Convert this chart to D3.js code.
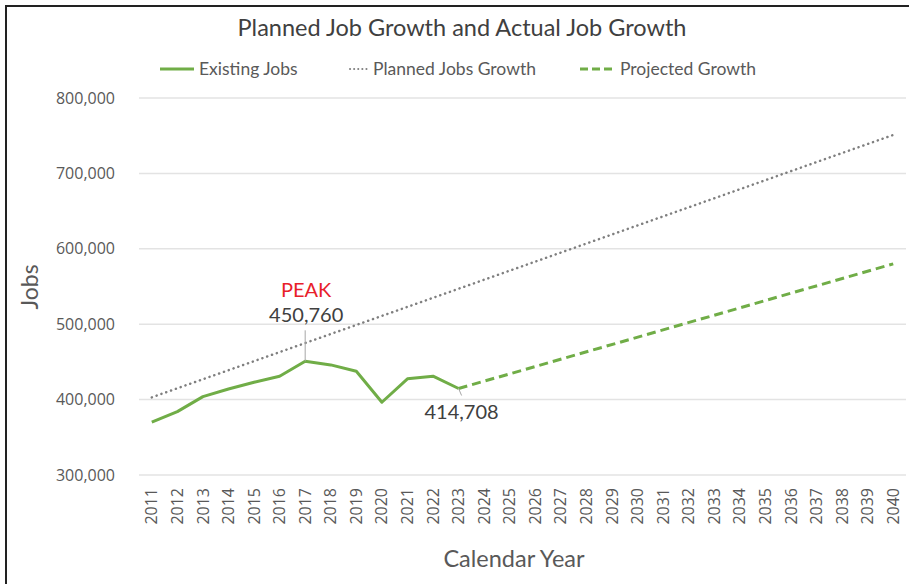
<!DOCTYPE html>
<html>
<head>
<meta charset="utf-8">
<script src="https://cdn.jsdelivr.net/npm/d3@7/dist/d3.min.js"></script>
<style>
  html, body { margin: 0; padding: 0; background: #fff; }
  svg { display: block; }
</style>
</head>
<body>
<script>
// Job data
const years = d3.range(2011, 2041).map(String);
const existingYears = ["2011","2012","2013","2014","2015","2016","2017","2018","2019","2020","2021","2022","2023"];
const existingJobs = [370000, 384000, 404000, 414000, 423000, 431000, 450760, 446000, 437500, 396500, 427500, 431000, 414708];
const plannedYears = ["2011", "2040"];
const plannedJobs = [403000, 751000];
const projectedYears = ["2023", "2040"];
const projectedJobs = [414708, 580000];
const yTicks = [300000, 400000, 500000, 600000, 700000, 800000];

const W = 909, H = 584;
const plotLeft = 139, plotRight = 906, plotTop = 98, plotBottom = 475;
const green = "#70ad47";
const textColor = "#595959";

const svg = d3.select("body").append("svg").attr("width", W).attr("height", H);

// frame edges
svg.append("line").attr("x1", 6).attr("x2", 6).attr("y1", 5).attr("y2", H).attr("stroke", "#222").attr("stroke-width", 2);
svg.append("line").attr("x1", 5).attr("x2", W).attr("y1", 6).attr("y2", 6).attr("stroke", "#222").attr("stroke-width", 2);

const x = d3.scaleBand().domain(years).range([plotLeft, plotRight]);
const y = d3.scaleLinear().domain([300000, 800000]).range([plotBottom, plotTop]);
const cx = d => x(d) + x.bandwidth() / 2;

// grid
svg.append("g").selectAll("line").data(yTicks).join("line")
  .attr("x1", plotLeft).attr("x2", plotRight)
  .attr("y1", d => y(d)).attr("y2", d => y(d))
  .attr("stroke", "#e3e3e3").attr("stroke-width", 1.5);

// y axis labels
const yAxis = svg.append("g").attr("transform", `translate(${plotLeft},0)`)
  .call(d3.axisLeft(y).tickValues(yTicks).tickSize(0).tickPadding(24).tickFormat(d3.format(",")));
yAxis.select(".domain").remove();
yAxis.selectAll("text").attr("font-family", "Open Sans").attr("font-size", 16).attr("fill", textColor);

// x axis labels
const xAxis = svg.append("g").attr("transform", `translate(0,${plotBottom})`)
  .call(d3.axisBottom(x).tickSize(0));
xAxis.select(".domain").remove();
xAxis.selectAll("text")
  .attr("font-family", "Open Sans").attr("font-size", 16).attr("fill", textColor)
  .attr("transform", "rotate(-90)")
  .attr("text-anchor", "end").attr("dy", "0.35em").attr("y", 0).attr("x", -13);

// lines
const line = d3.line().x(d => cx(d[0])).y(d => y(d[1]));

svg.append("path").datum(d3.zip(plannedYears, plannedJobs))
  .attr("d", line).attr("fill", "none").attr("stroke", "#7f7f7f")
  .attr("stroke-width", 2.5).attr("stroke-dasharray", "0.1 5").attr("stroke-linecap", "round");

svg.append("path").datum(d3.zip(projectedYears, projectedJobs))
  .attr("d", line).attr("fill", "none").attr("stroke", green)
  .attr("stroke-width", 3).attr("stroke-dasharray", "9 5");

svg.append("path").datum(d3.zip(existingYears, existingJobs))
  .attr("d", line).attr("fill", "none").attr("stroke", green)
  .attr("stroke-width", 3).attr("stroke-linejoin", "round");

// annotations
const peakIdx = existingJobs.indexOf(d3.max(existingJobs));
const px = cx(existingYears[peakIdx]), py = y(existingJobs[peakIdx]);
svg.append("line").attr("x1", px).attr("x2", px).attr("y1", py).attr("y2", py - 31)
  .attr("stroke", "#a6a6a6").attr("stroke-width", 1);
svg.append("text").attr("x", px + 1).attr("y", py - 64).attr("text-anchor", "middle")
  .attr("font-family", "Lato").attr("font-size", 20).attr("fill", "#e8202a").text("PEAK");
svg.append("text").attr("x", px + 1).attr("y", py - 39).attr("text-anchor", "middle")
  .attr("font-family", "Lato").attr("font-size", 20).attr("fill", "#404040")
  .text(d3.format(",")(existingJobs[peakIdx]));

const lastIdx = existingJobs.length - 1;
const lx = cx(existingYears[lastIdx]), ly = y(existingJobs[lastIdx]);
svg.append("line").attr("x1", lx).attr("x2", lx + 3).attr("y1", ly).attr("y2", ly + 7)
  .attr("stroke", "#a6a6a6").attr("stroke-width", 1);
svg.append("text").attr("x", lx + 3).attr("y", ly + 30).attr("text-anchor", "middle")
  .attr("font-family", "Lato").attr("font-size", 20).attr("fill", "#404040")
  .text(d3.format(",")(existingJobs[lastIdx]));

// title
svg.append("text").attr("x", 462).attr("y", 36).attr("text-anchor", "middle")
  .attr("font-family", "Lato").attr("font-size", 23.5).attr("fill", "#404040")
  .text("Planned Job Growth and Actual Job Growth");

// legend
const legend = [
  { label: "Existing Jobs", x0: 160, x1: 194, tx: 199, dash: null, color: green, w: 3, cap: "butt" },
  { label: "Planned Jobs Growth", x0: 350, x1: 368, tx: 373, dash: "0.1 4", color: "#7f7f7f", w: 2, cap: "round" },
  { label: "Projected Growth", x0: 580, x1: 612, tx: 620, dash: "8 4", color: green, w: 3, cap: "butt" }
];
const lg = svg.append("g");
legend.forEach(d => {
  lg.append("line").attr("x1", d.x0).attr("x2", d.x1).attr("y1", 69).attr("y2", 69)
    .attr("stroke", d.color).attr("stroke-width", d.w)
    .attr("stroke-dasharray", d.dash).attr("stroke-linecap", d.cap);
  lg.append("text").attr("x", d.tx).attr("y", 75)
    .attr("font-family", "Lato").attr("font-size", 17.5).attr("fill", textColor).text(d.label);
});

// axis titles
svg.append("text").attr("transform", "translate(38,287) rotate(-90)").attr("text-anchor", "middle")
  .attr("font-family", "Lato").attr("font-size", 23).attr("fill", textColor).text("Jobs");
svg.append("text").attr("x", 514).attr("y", 567).attr("text-anchor", "middle")
  .attr("font-family", "Lato").attr("font-size", 23.5).attr("fill", textColor).text("Calendar Year");
</script>
</body>
</html>
